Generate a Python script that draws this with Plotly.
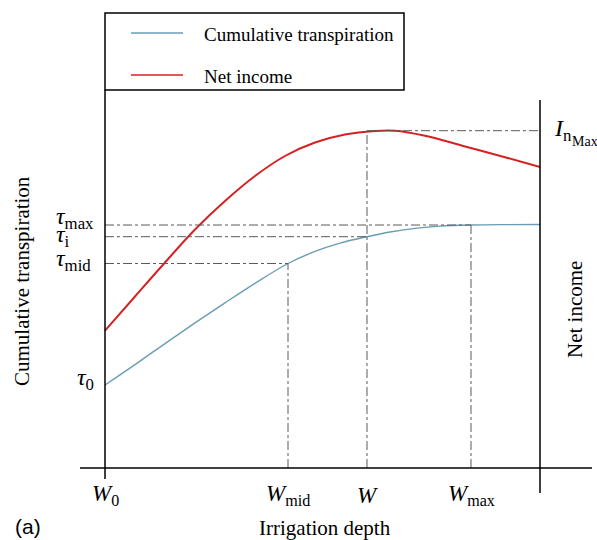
import plotly.graph_objects as go

# ---- data (conceptual curves) ----
depth_transp = [0, 30, 60, 90, 120, 150, 183, 210, 235, 262, 285, 310, 335, 366, 400, 435]
transpiration = [83, 103.4, 124.4, 145.1, 165.2, 184.7, 204.5, 216.6, 224.9, 231.3, 236, 239.6, 241.9, 243, 243.4, 243.5]
depth_income = [0, 30, 60, 90, 120, 150, 180, 210, 240, 270, 290, 320, 360, 400, 435]
net_income = [137.3, 171.5, 205.5, 238.5, 267, 292, 312, 325.5, 333.5, 337, 337.3, 332.3, 321.5, 310.8, 301]

# key depths / levels
W_0, W_MID, W_I, W_MAX, W_END = 0, 183, 262, 366, 435
TAU_0, TAU_MID, TAU_I, TAU_MAX = 83, 204.5, 231.3, 243
IN_MAX = 337.3

x_tick_labels = ["<i>W</i><sub>0</sub>", "<i>W</i><sub>mid</sub>", "<i>W</i>", "<i>W</i><sub>max</sub>"]
x_tick_vals = [W_0, W_MID, W_I, W_MAX]

BLUE = "#6b9cb6"
RED = "#d42222"
GRAY = "#5a5a5a"
SERIF = "Liberation Serif, Times New Roman, serif"

fig = go.Figure()
fig.add_trace(go.Scatter(x=depth_transp, y=transpiration, mode="lines",
                         line=dict(color=BLUE, width=1.4, shape="spline", smoothing=1),
                         name="Cumulative transpiration", showlegend=False, hoverinfo="skip"))
fig.add_trace(go.Scatter(x=depth_income, y=net_income, mode="lines",
                         line=dict(color=RED, width=2, shape="spline", smoothing=1),
                         name="Net income", showlegend=False, hoverinfo="skip"))

shapes = []
def line(x0, y0, x1, y1, color="black", width=1.5, dash=None):
    d = dict(type="line", xref="x", yref="y", x0=x0, y0=y0, x1=x1, y1=y1,
             line=dict(color=color, width=width))
    if dash:
        d["line"]["dash"] = dash
    shapes.append(d)

# reference (dash-dot) lines
line(W_0, TAU_MAX, W_MAX, TAU_MAX, GRAY, 1, "dashdot")
line(W_0, TAU_I, W_I, TAU_I, GRAY, 1, "dashdot")
line(W_0, TAU_MID, W_MID, TAU_MID, GRAY, 1, "dashdot")
line(W_I, IN_MAX, W_END, IN_MAX, GRAY, 1, "dashdot")
line(W_MID, 0, W_MID, TAU_MID, GRAY, 1, "dashdot")
line(W_I, 0, W_I, IN_MAX, GRAY, 1, "dashdot")
line(W_MAX, 0, W_MAX, TAU_MAX, GRAY, 1, "dashdot")

# axes
line(-25, 0, 487, 0)
line(W_0, -11, W_0, 378)
line(W_END, -25, W_END, 368)

# legend box
shapes.append(dict(type="rect", xref="x", yref="y", x0=0, y0=378, x1=299, y1=455,
                   line=dict(color="black", width=1.5), fillcolor="white"))
line(26, 435, 78, 435, BLUE, 1.4)
line(26, 393, 78, 393, RED, 1.4)

ann = []
def text(x, y, t, size=21, xanchor="center", yanchor="middle", angle=0, family=SERIF):
    ann.append(dict(x=x, y=y, xref="x", yref="y", text=t, showarrow=False,
                    xanchor=xanchor, yanchor=yanchor, textangle=angle,
                    font=dict(family=family, size=size, color="black")))

text(97, 434, "Cumulative transpiration", 19, "left")
text(97, 392, "Net income", 19, "left")

# x "tick" labels
for v, t in zip(x_tick_vals, x_tick_labels):
    text(v, -27, t, 23)

# y "tick" labels
text(-51, TAU_MAX + 7, "<i>τ</i><sub>max</sub>", 24, "left")
text(-51, TAU_I + 1, "<i>τ</i><sub>i</sub>", 24, "left")
text(-51, TAU_MID + 4, "<i>τ</i><sub>mid</sub>", 24, "left")
text(-9, TAU_0 + 6, "<i>τ</i><sub>0</sub>", 24, "right")

text(447, IN_MAX + 1, "<i>I</i><sub>n</sub>", 24, "left")
text(465, IN_MAX - 11, "Max", 14, "left")
text(220, -60, "Irrigation depth", 21)
text(-83, 187, "Cumulative transpiration", 21, angle=-90)
text(470, 158, "Net income", 21, angle=-90)
text(-77, -58, "(a)", 21, family="Liberation Sans, Arial, sans-serif")

fig.update_layout(
    width=597, height=540, autosize=False,
    margin=dict(l=0, r=0, t=0, b=0),
    paper_bgcolor="white", plot_bgcolor="white",
    xaxis=dict(range=[-105, 492], visible=False, fixedrange=True),
    yaxis=dict(range=[-72, 468], visible=False, fixedrange=True),
    shapes=shapes, annotations=ann, showlegend=False,
)
fig.write_html("out.html", config={"displayModeBar": False},
               post_script="document.body.style.margin='0';document.body.style.overflow='hidden';")
